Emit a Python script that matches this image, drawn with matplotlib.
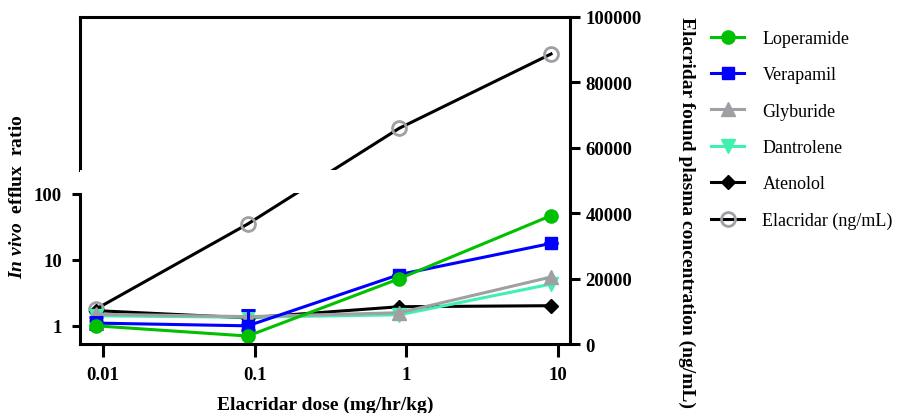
import numpy as np
import matplotlib
matplotlib.use("Agg")
import matplotlib.pyplot as plt
from matplotlib.patches import Rectangle

plt.rcParams['font.family'] = ['Liberation Serif', 'DejaVu Serif']
plt.rcParams['mathtext.fontset'] = 'custom'
plt.rcParams['mathtext.it'] = 'Liberation Serif:italic:bold'
plt.rcParams['mathtext.rm'] = 'Liberation Serif:bold'
plt.rcParams['mathtext.bf'] = 'Liberation Serif:bold'

# dose (mg/hr/kg)
dose = [0.009, 0.09, 0.9, 9]
dose_ticks = [0.01, 0.1, 1, 10]
dose_labels = ["0.01", "0.1", "1", "10"]

# in vivo efflux ratio
loperamide = [1.0, 0.70, 5.2, 47.0]
verapamil = [1.1, 1.0, 6.0, 17.8]
verapamil_err_low = [0.2, 0.15, 0.0, 0.0]
verapamil_err_high = [0.25, 0.75, 0.0, 0.0]
glyburide = [1.5, 1.38, 1.58, 5.5]
dantrolene = [1.42, 1.35, 1.47, 4.3]
atenolol = [1.7, 1.32, 1.95, 2.02]

# elacridar plasma concentration (ng/mL)
elacridar = [10700, 36700, 66000, 88700]

W, H = 897, 414
fig = plt.figure(figsize=(W / 100, H / 100), dpi=100)

left, right = 80 / W, 570 / W
bottom = 1 - 345 / H
top_right = 1 - 18 / H
top_left = 1 - 195 / H

LW = 2.2
TICK_FS = 13.5
LABEL_FS = 14
xlim = (0.00705, 12.0)

# right axis (plasma conc.)
ax2 = fig.add_axes([left, bottom, right - left, top_right - bottom])
ax2.set_xscale('log')
ax2.set_xlim(xlim)
ax2.set_ylim(0, 100000)
ax2.plot(dose, elacridar, color='black', lw=LW, marker='o', ms=10,
         mfc='none', mec='#a0a0a4', mew=2, label='Elacridar (ng/mL)', zorder=2)
ax2.yaxis.tick_right()
ax2.set_yticks([0, 20000, 40000, 60000, 80000, 100000])
ax2.tick_params(axis='y', length=7, width=2.2, pad=4, labelsize=TICK_FS)
ax2.tick_params(axis='x', which='both', bottom=False, labelbottom=False)
for lab in ax2.get_yticklabels():
    lab.set_fontweight('bold')
for s in ['top', 'right', 'left']:
    ax2.spines[s].set_linewidth(2.2)
ax2.spines['bottom'].set_visible(False)
ax2.spines['left'].set_bounds(53200, 100000)
ax2.patch.set_visible(False)
# white break band
ax2.add_patch(Rectangle((0, 0.4618), 0.95, 0.0705, transform=ax2.transAxes,
                        facecolor='white', edgecolor='none', zorder=3))

# left axis (efflux ratio, log)
ax1 = fig.add_axes([left, bottom, right - left, top_left - bottom])
ax1.patch.set_visible(False)
ax1.set_xscale('log')
ax1.set_yscale('log')
ax1.set_xlim(xlim)
ax1.set_ylim(0.53, 100)

ax1.plot(dose, atenolol, color='black', lw=LW, marker='D', ms=7, label='Atenolol')
ax1.plot(dose, dantrolene, color='#40f0b0', lw=LW, marker='v', ms=10, label='Dantrolene')
ax1.plot(dose, glyburide, color='#a0a0a4', lw=LW, marker='^', ms=10, label='Glyburide')
ax1.errorbar(dose, verapamil, yerr=[verapamil_err_low, verapamil_err_high],
             fmt='none', ecolor='#0000ff', capsize=5, capthick=2.2, elinewidth=2.2)
ax1.plot(dose, verapamil, color='#0000ff', lw=LW, marker='s', ms=9, label='Verapamil')
ax1.plot(dose, loperamide, color='#00c000', lw=LW, marker='o', ms=9.5, label='Loperamide')

ax1.set_yticks([1, 10, 100])
ax1.set_yticklabels(["1", "10", "100"])
ax1.yaxis.set_minor_locator(matplotlib.ticker.NullLocator())
ax1.set_xticks(dose_ticks)
ax1.set_xticklabels(dose_labels)
ax1.xaxis.set_minor_locator(matplotlib.ticker.NullLocator())
ax1.tick_params(axis='y', length=6, width=2.2, pad=7, labelsize=TICK_FS)
ax1.tick_params(axis='x', length=9, width=2.2, pad=7, labelsize=TICK_FS)
for lab in ax1.get_yticklabels() + ax1.get_xticklabels():
    lab.set_fontweight('bold')
ax1.spines['top'].set_visible(False)
ax1.spines['right'].set_visible(False)
ax1.spines['left'].set_linewidth(2.2)
ax1.spines['bottom'].set_linewidth(2.2)

# axis labels
fig.text(18 / W, 1 - 197 / H, r"$\mathit{In\ vivo}$  efflux  ratio",
         rotation=90, ha='center', va='center', fontsize=LABEL_FS, fontweight='bold')
fig.text(325 / W, 1 - 405 / H, "Elacridar dose (mg/hr/kg)",
         ha='center', va='center', fontsize=LABEL_FS, fontweight='bold')
fig.text(687 / W, 1 - 213 / H, "Elacridar found plasma concentration (ng/mL)",
         rotation=-90, ha='center', va='center', fontsize=LABEL_FS, fontweight='bold')

# legend
h1, l1 = ax1.get_legend_handles_labels()
h2, l2 = ax2.get_legend_handles_labels()
order = ['Loperamide', 'Verapamil', 'Glyburide', 'Dantrolene', 'Atenolol', 'Elacridar (ng/mL)']
hd = dict(zip(l1 + l2, h1 + h2))
fig.legend([hd[k] for k in order], order, loc='upper left',
           bbox_to_anchor=(711 / W, 1 - 31 / H), frameon=False,
           fontsize=13, handlelength=1.85, handletextpad=1.0,
           labelspacing=1.07, borderpad=0, borderaxespad=0)

fig.savefig("out.png", dpi=100)
